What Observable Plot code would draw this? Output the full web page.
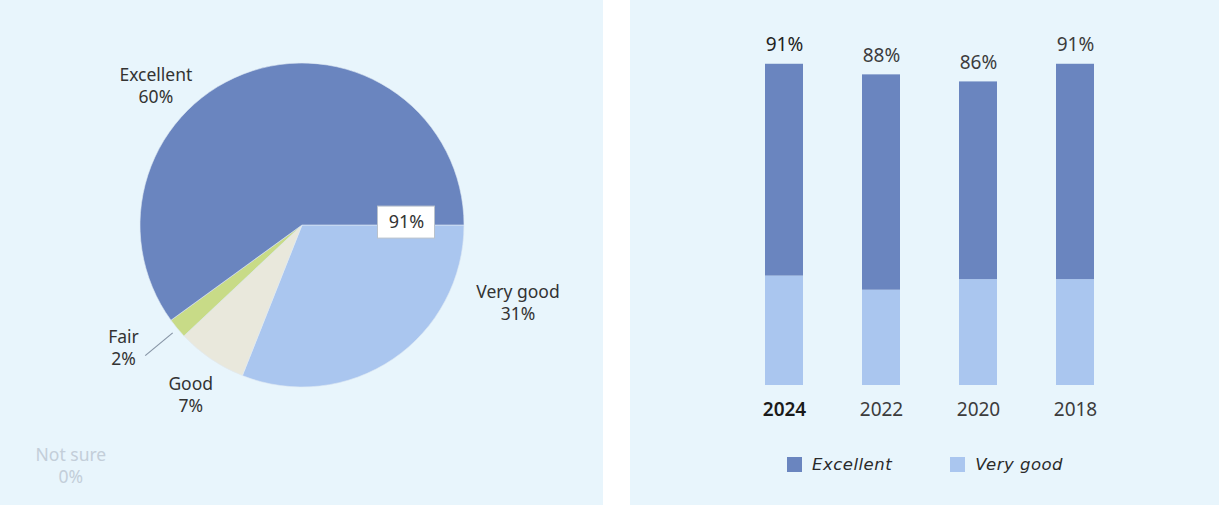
<!DOCTYPE html>
<html>
<head>
<meta charset="utf-8">
<script src="https://cdn.jsdelivr.net/npm/d3@7"></script>
<script src="https://cdn.jsdelivr.net/npm/@observablehq/plot@0.6"></script>
<style>
  html, body { margin: 0; padding: 0; background: #ffffff; }
  body { font-family: "Noto Sans", sans-serif; }
  #wrap { display: flex; width: 1219px; height: 505px; }
  .panel { height: 505px; background: #e8f5fc; position: relative; overflow: hidden; }
  #left { width: 603px; }
  #gap { width: 27px; height: 505px; background: #ffffff; }
  #right { width: 589px; }
  #legend { position: absolute; left: 157px; top: 455px; display: flex; align-items: center;
            font-family: "DejaVu Sans", sans-serif; font-style: italic; font-size: 16.5px; color: #2a2a2a; letter-spacing: 0.5px; }
  #legend .item { display: flex; align-items: center; }
  #legend .sw { width: 15px; height: 15px; margin-right: 10px; }
</style>
</head>
<body>
<div id="wrap">
  <div id="left" class="panel"></div>
  <div id="gap"></div>
  <div id="right" class="panel"><div id="legend"></div></div>
</div>
<script>
// ---------- data ----------
const pieCategories = ["Very good", "Good", "Fair", "Not sure", "Excellent"];
const pieValues = [31, 7, 2, 0, 60];
const pieColors = ["#aac6ef", "#e9e8dc", "#c8db87", "#d9e2ea", "#6a85bf"];

const years = ["2024", "2022", "2020", "2018"];
const excellentValues = [60, 61, 56, 61];
const veryGoodValues = [31, 27, 30, 30];
const barSeries = ["Excellent", "Very good"];
const barColors = ["#6a85bf", "#aac6ef"];

// label layout (pie units, radius = 1)
const pieLabelX = [1.33, -0.69, -1.105, -1.43, -0.905];
const pieLabelY = [-0.47, -1.04, -0.75, -1.48, 0.865];
const pieLabelFill = ["#333333", "#333333", "#333333", "#c3ced9", "#333333"];
const totalBoxAnchor = [0.642, 0.018];

// ---------- pie ----------
const R = 162, CX = 302, CY = 225;
const pieData = pieCategories.map((c, i) => ({category: c, value: pieValues[i], color: pieColors[i]}));
const arcs = d3.pie().sort(null).value(d => d.value)
  .startAngle(Math.PI / 2).endAngle(Math.PI / 2 + 2 * Math.PI)(pieData);

const labelRows = pieData.map((d, i) => ({
  text: `${d.category}\n${d.value}%`, x: pieLabelX[i], y: pieLabelY[i], fill: pieLabelFill[i]
}));

// leader line for the Fair slice, along its mid-angle
const fairArc = arcs.find(a => a.data.category === "Fair");
const fairMid = (fairArc.startAngle + fairArc.endAngle) / 2;
const leader = [{
  x1: 1.04 * Math.sin(fairMid), y1: 1.04 * Math.cos(fairMid),
  x2: 1.26 * Math.sin(fairMid), y2: 1.26 * Math.cos(fairMid)
}];

const topTwo = pieValues[pieCategories.indexOf("Excellent")] + pieValues[pieCategories.indexOf("Very good")];
const boxHW = 28.5 / R, boxHH = 16 / R;
const boxRows = [{
  x1: totalBoxAnchor[0] - boxHW, x2: totalBoxAnchor[0] + boxHW,
  y1: totalBoxAnchor[1] - boxHH, y2: totalBoxAnchor[1] + boxHH,
  x: totalBoxAnchor[0], y: totalBoxAnchor[1], text: topTwo + "%"
}];

function pieSlices(index, scales) {
  const cx = scales.x(0), cy = scales.y(0), r = scales.x(1) - scales.x(0);
  const g = d3.create("svg:g").attr("transform", `translate(${cx},${cy})`);
  const arc = d3.arc().innerRadius(0).outerRadius(r);
  g.selectAll("path").data(arcs.filter(a => a.data.value > 0)).join("path")
    .attr("d", arc)
    .attr("fill", a => a.data.color)
    .attr("stroke", "#dfe9f3")
    .attr("stroke-width", 0.6);
  return g.node();
}

const left = Plot.plot({
  width: 603, height: 505,
  marginLeft: 0, marginRight: 0, marginTop: 0, marginBottom: 0,
  x: {domain: [-1, 1], range: [CX - R, CX + R], axis: null},
  y: {domain: [-1, 1], range: [CY + R, CY - R], axis: null},
  style: {background: "transparent", fontFamily: "Noto Sans, sans-serif", overflow: "visible"},
  marks: [
    pieSlices,
    Plot.link(leader, {x1: "x1", y1: "y1", x2: "x2", y2: "y2", stroke: "#8795a6", strokeWidth: 1.2}),
    Plot.text(labelRows, {x: "x", y: "y", text: "text", fill: "fill", fontSize: 17.5, lineHeight: 1.25}),
    Plot.rect(boxRows, {x1: "x1", x2: "x2", y1: "y1", y2: "y2", fill: "#ffffff", stroke: "#b9c2cc", strokeWidth: 1}),
    Plot.text(boxRows, {x: "x", y: "y", text: "text", fill: "#333333", fontSize: 18})
  ]
});
document.getElementById("left").appendChild(left);

// ---------- bars ----------
const barRows = [
  ...years.map((y, i) => ({year: y, series: "Very good", value: veryGoodValues[i]})),
  ...years.map((y, i) => ({year: y, series: "Excellent", value: excellentValues[i]}))
];
const totalRows = years.map((y, i) => ({year: y, total: excellentValues[i] + veryGoodValues[i]}));

const right = Plot.plot({
  width: 589, height: 505,
  marginLeft: 75, marginRight: 65, marginTop: 32, marginBottom: 120,
  x: {domain: years, padding: 0.61, axis: null},
  y: {domain: [0, 100], axis: null},
  color: {domain: barSeries, range: barColors},
  style: {background: "transparent", fontFamily: "Noto Sans, sans-serif", overflow: "visible"},
  marks: [
    Plot.barY(barRows, {x: "year", y: "value", fill: "series"}),
    Plot.text(totalRows, {x: "year", y: "total", text: d => d.total + "%", dy: -19, fontSize: 19,
      fill: d => d.year === years[0] ? "#222222" : "#3c3c3c"}),
    Plot.text(totalRows.filter(d => d.year !== years[0]), {x: "year", y: 0, text: "year", dy: 24, fontSize: 19, fill: "#3c3c3c"}),
    Plot.text(totalRows.filter(d => d.year === years[0]), {x: "year", y: 0, text: "year", dy: 24, fontSize: 19, fill: "#1a1a1a", fontWeight: 600})
  ]
});
document.getElementById("right").insertBefore(right, document.getElementById("legend"));

const legend = d3.select("#legend");
barSeries.forEach((s, i) => {
  const it = legend.append("div").attr("class", "item").style("margin-right", i === 0 ? "58px" : "0px");
  it.append("div").attr("class", "sw").style("background", barColors[i]);
  it.append("span").text(s);
});
</script>
</body>
</html>
